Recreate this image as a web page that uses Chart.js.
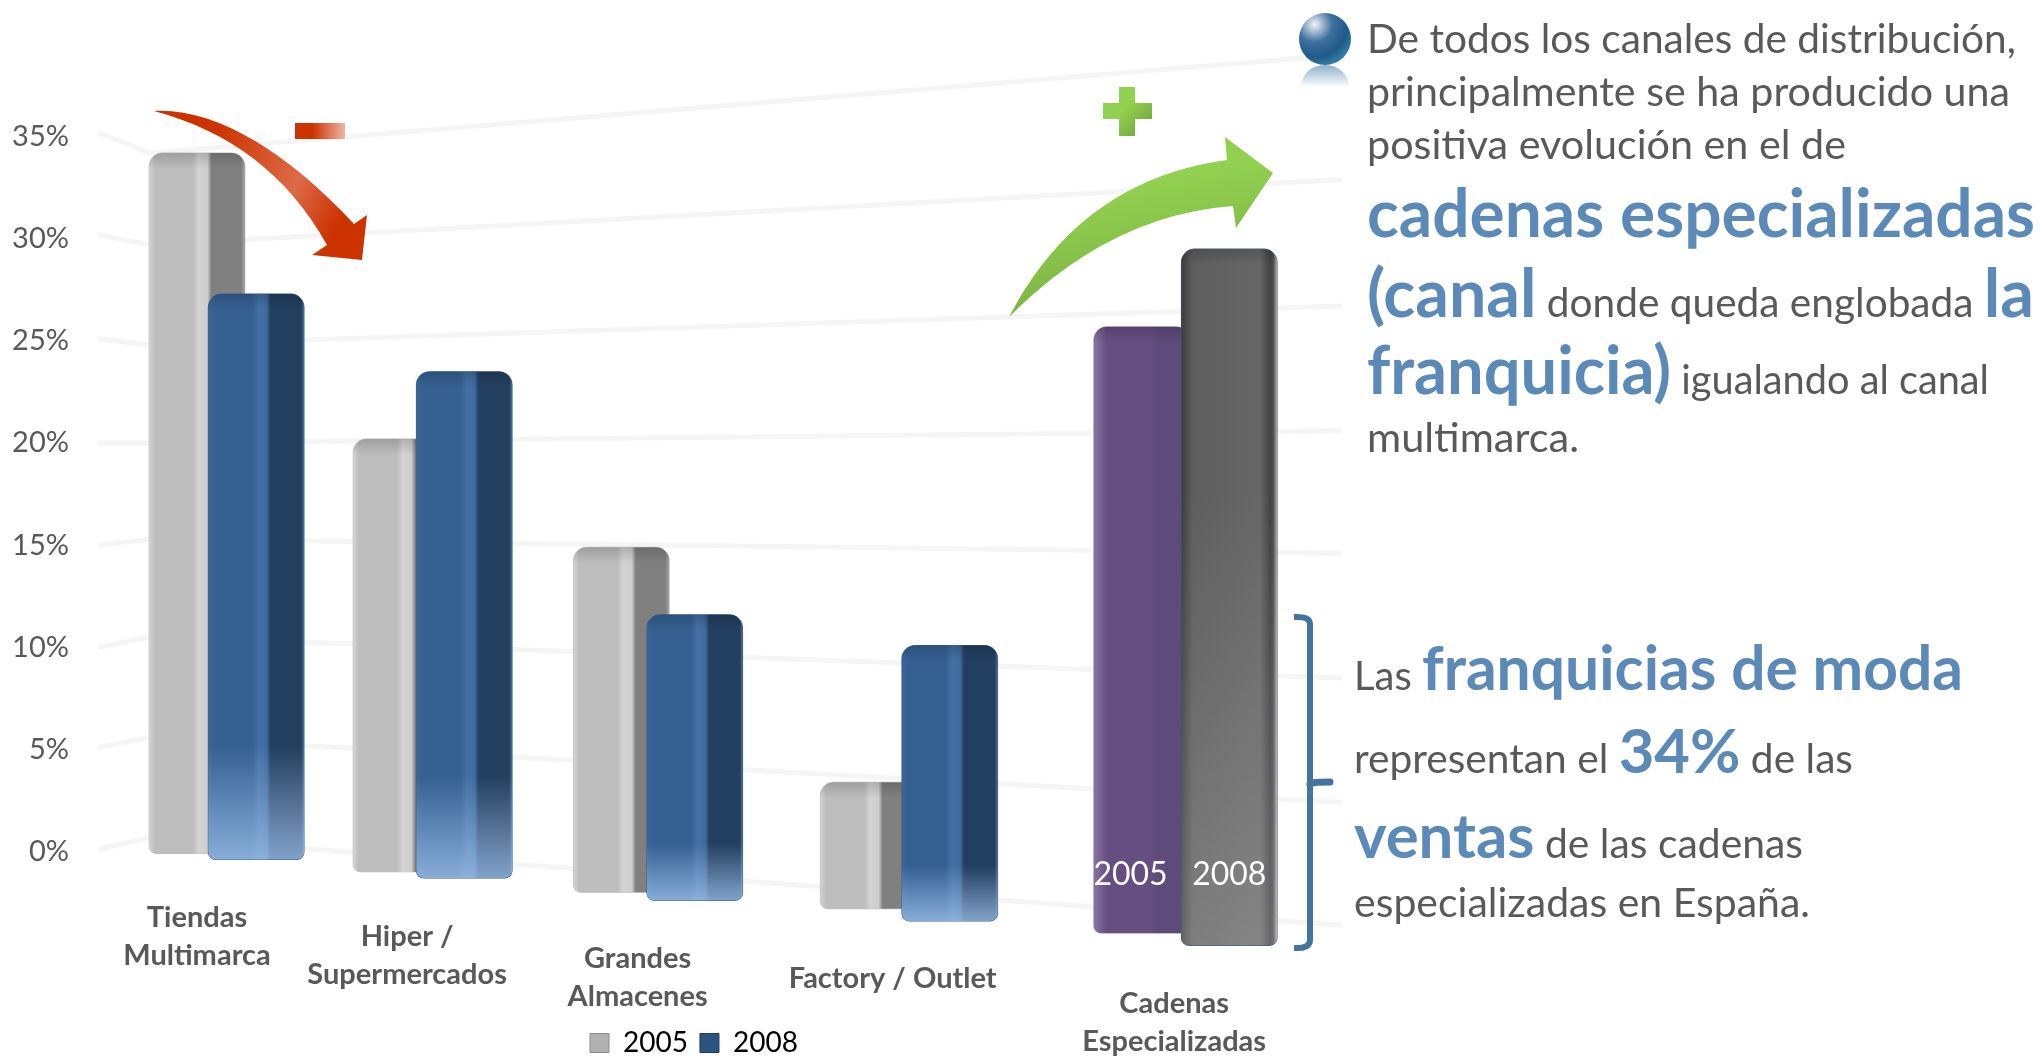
<!DOCTYPE html>
<html>
<head>
  <meta charset="UTF-8">
  <title>Canales de distribución</title>
  <script src="https://cdn.jsdelivr.net/npm/chart.js"></script>
  <style>
    body {
      margin: 0;
      background: #fff;
      font-family: Lato;
      overflow: hidden;
    }

    #wrap {
      position: relative;
      width: 2042px;
      height: 1058px;
    }

    canvas, svg {
      position: absolute;
      left: 0;
      top: 0;
    }

    text {
      font-family: Lato;
      font-size: 41px;
      fill: #595959;
    }

    .big {
      font-size: 67px;
      font-weight: bold;
      fill: #5b8ab8;
    }

    .big2 {
      font-size: 62px;
      font-weight: bold;
      fill: #5b8ab8;
    }
  </style>
</head>
<body>

<div id="wrap">
  <canvas id="chart" width="2042" height="1058"></canvas>

  <svg width="2042" height="1058" viewBox="0 0 2042 1058">
    <defs>
      <linearGradient id="redArrow" x1="0" y1="0" x2="1" y2="0.35">
        <stop offset="0.3" stop-color="#cc3300"/>
        <stop offset="0.75" stop-color="#dd6a48"/>
        <stop offset="1" stop-color="#cc3300"/>
      </linearGradient>
      <linearGradient id="minus" x1="0" y1="0" x2="1" y2="0">
        <stop offset="0.35" stop-color="#cc3300"/>
        <stop offset="1" stop-color="#eeb5a5"/>
      </linearGradient>
      <linearGradient id="greenArrow" x1="0.3" y1="0" x2="0.6" y2="1">
        <stop offset="0.3" stop-color="#92d050"/>
        <stop offset="1" stop-color="#78ad3e"/>
      </linearGradient>
      <linearGradient id="plus" x1="0" y1="0" x2="1" y2="1">
        <stop offset="0.45" stop-color="#92d050"/>
        <stop offset="1" stop-color="#6c9c35"/>
      </linearGradient>
      <radialGradient id="ball" cx="0.3" cy="0.22" r="0.9">
        <stop offset="0" stop-color="#f2f4f7"/>
        <stop offset="0.38" stop-color="#3f6f9d"/>
        <stop offset="0.7" stop-color="#1f5a88"/>
        <stop offset="1" stop-color="#3a8db5"/>
      </radialGradient>
      <linearGradient id="ballShine" x1="0" y1="0" x2="0" y2="1">
        <stop offset="0" stop-color="#8fb0cb"/>
        <stop offset="1" stop-color="#ffffff"/>
      </linearGradient>
    </defs>

    <!-- flecha roja y signo menos -->
    <path fill="url(#redArrow)" d="M154 111 C215 108 285 150 354 224 L367 215 L362 260 L312 255 L327 245 C285 170 225 130 154 111 Z"/>
    <rect x="295" y="123" width="50" height="16" fill="url(#minus)"/>

    <!-- flecha verde y signo mas -->
    <path fill="url(#greenArrow)" d="M1009 317 Q1080 180 1227 160 L1225 137 L1273 173 L1236 228 L1233 206 Q1110 215 1009 317 Z"/>
    <path fill="url(#plus)" d="M1119 87 H1135 V103 H1152 V119 H1135 V136 H1119 V119 H1103 V103 H1119 Z"/>

    <!-- bola -->
    <circle cx="1325" cy="39" r="26" fill="url(#ball)"/>
    <path fill="url(#ballShine)" d="M1300 87 Q1304 66 1325 65 Q1346 66 1350 87 Z"/>

    <!-- llave -->
    <path fill="none" stroke="#44739f" stroke-width="6" d="M1294 617 Q1310 616 1310 624 V940 Q1310 949 1294 948"/>
    <path fill="none" stroke="#44739f" stroke-width="7" stroke-linecap="round" d="M1310 784 Q1311 782 1330 782"/>

    <!-- texto de la derecha -->
    <text x="1367" y="53" textLength="649" lengthAdjust="spacingAndGlyphs">De todos los canales de distribución,</text>
    <text x="1367" y="106" textLength="643" lengthAdjust="spacingAndGlyphs">principalmente se ha producido una</text>
    <text x="1367" y="159" textLength="479" lengthAdjust="spacingAndGlyphs">positiva evolución en el de</text>
    <text x="1367" y="237" textLength="668" lengthAdjust="spacingAndGlyphs"><tspan class="big">cadenas especializadas</tspan></text>
    <text x="1367" y="317" textLength="667" lengthAdjust="spacingAndGlyphs"><tspan class="big">(canal</tspan> donde queda englobada <tspan class="big">la</tspan></text>
    <text x="1367" y="394" textLength="622" lengthAdjust="spacingAndGlyphs"><tspan class="big">franquicia)</tspan> igualando al canal</text>
    <text x="1367" y="452" textLength="212" lengthAdjust="spacingAndGlyphs">multimarca.</text>

    <text x="1354" y="690" textLength="609" lengthAdjust="spacingAndGlyphs">Las <tspan class="big2">franquicias de moda</tspan></text>
    <text x="1354" y="773" textLength="499" lengthAdjust="spacingAndGlyphs">representan el <tspan class="big2">34%</tspan> de las</text>
    <text x="1354" y="858" textLength="449" lengthAdjust="spacingAndGlyphs"><tspan class="big2">ventas</tspan> de las cadenas</text>
    <text x="1354" y="917" textLength="456" lengthAdjust="spacingAndGlyphs">especializadas en España.</text>
  </svg>
</div>

<script>
  const categories = [
    ['Tiendas', 'Multimarca'],
    ['Hiper /', 'Supermercados'],
    ['Grandes', 'Almacenes'],
    ['Factory / Outlet'],
    ['Cadenas', 'Especializadas']
  ];
  const seriesNames = ['2005', '2008'];
  const tickValues = [0, 5, 10, 15, 20, 25, 30, 35];

  // bar heights in %
  const values2005 = [34.3, 21.2, 16.9, 6.2, 29.7];
  const values2008 = [27.7, 24.8, 14.0, 13.5, 34.1];

  // how far each bar foot sits under the 0% mark (perspective), in %
  const drop2005 = [0.1, 1.0, 2.0, 2.8, 4.0];
  const drop2008 = [0.4, 1.3, 2.4, 3.4, 4.6];

  // where the categories fall along the receding x axis, in slots
  const slots2005 = [0, 1, 2.08, 3.29, 4.63];
  const slots2008 = [0.29, 1.31, 2.44, 3.69, 5.06];
  const labelSlots = [0, 1.03, 2.16, 3.41, 4.79];

  // faint wall lines: value at the left end, at the corner, at the right end
  const wallSlots = [-0.485, -0.23, 5.613];
  const wallLeft = [0.1, 5.1, 10.0, 15.0, 20.0, 25.1, 30.2, 35.2];
  const wallCorner = [0.7, 5.6, 10.5, 15.3, 20.0, 24.8, 29.7, 34.2];
  const wallRight = [-3.6, 2.4, 8.5, 14.6, 20.6, 26.7, 32.9, 39.0];

  // gradient stops across each bar, left to right
  const grayStops = [[0, '#d4d4d4'], [0.06, '#bdbdbd'], [0.46, '#bdbdbd'], [0.52, '#d4d4d4'], [0.61, '#cdcdcd'], [0.65, '#808080'], [0.96, '#808080'], [1, '#a8a8a8']];
  const blueStops = [[0, '#3a669a'], [0.06, '#366092'], [0.46, '#366092'], [0.53, '#4472a6'], [0.61, '#40699c'], [0.65, '#233f60'], [0.97, '#233f60'], [1, '#5a7390']];
  const purpleStops = [[0, '#8a74a4'], [0.14, '#664e82'], [0.6, '#664e82'], [0.68, '#5f4a7c'], [1, '#5f4a7c']];
  const darkStops = [[0, '#3c3c3c'], [0.12, '#5e5e5e'], [0.82, '#666666'], [0.93, '#424242'], [0.96, '#505050'], [1, '#b4b4b4']];
  const faces2005 = [grayStops, grayStops, grayStops, grayStops, purpleStops];
  const faces2008 = [blueStops, blueStops, blueStops, blueStops, darkStops];

  // scale calibration
  const zeroY = 851.6;
  const pxPerPct = 20.43;
  const barWidth = 96;

  const barData = (slots, values, drops) => slots.map((s, i) => ({ x: s, y: [-drops[i], values[i] - drops[i]] }));

  const wallDatasets = tickValues.map((t, i) => ({
    type: 'line',
    label: 'wall ' + t,
    order: 3,
    data: wallSlots.map((s, j) => ({ x: s, y: [wallLeft, wallCorner, wallRight][j][i] })),
    borderColor: '#f5f5f5',
    borderWidth: 5,
    pointRadius: 0,
    tension: 0
  }));

  // paint the fake 3D faces on top of each bar the library has drawn
  const faces3d = {
    id: 'faces3d',
    afterDatasetDraw(chart, args) {
      if (args.index > 1) return;
      const ctx = chart.ctx;
      const faces = args.index === 0 ? faces2005 : faces2008;
      args.meta.data.forEach((bar, i) => {
        const { x, y, base, width } = bar.getProps(['x', 'y', 'base', 'width'], true);
        const l = x - width / 2;
        const h = base - y;

        ctx.save();
        ctx.beginPath();
        ctx.roundRect(l, y, width, h, [14, 14, 8, 8]);
        ctx.clip();

        const g = ctx.createLinearGradient(l, 0, l + width, 0);
        faces[i].forEach(([at, colour]) => g.addColorStop(at, colour));
        ctx.fillStyle = g;
        ctx.fillRect(l, y, width, h);

        // top bevel
        const top = ctx.createLinearGradient(0, y, 0, y + 16);
        top.addColorStop(0, 'rgba(0,0,0,0.16)');
        top.addColorStop(1, 'rgba(0,0,0,0)');
        ctx.fillStyle = top;
        ctx.fillRect(l, y, width, 16);

        // blue bars wash out towards the floor, the dark one lightens slowly
        if (args.index === 1 && i < 4) {
          const fadeH = h * 0.2;
          const fade = ctx.createLinearGradient(0, base - fadeH, 0, base);
          fade.addColorStop(0, 'rgba(170,205,245,0)');
          fade.addColorStop(1, 'rgba(170,205,245,0.7)');
          ctx.fillStyle = fade;
          ctx.fillRect(l, base - fadeH, width, fadeH);
        }
        if (args.index === 1 && i === 4) {
          const fade = ctx.createLinearGradient(0, y + h * 0.35, 0, base);
          fade.addColorStop(0, 'rgba(255,255,255,0)');
          fade.addColorStop(1, 'rgba(255,255,255,0.2)');
          ctx.fillStyle = fade;
          ctx.fillRect(l, y, width, h);
        }
        ctx.restore();
      });
    },
    afterDatasetsDraw(chart) {
      const ctx = chart.ctx;
      const xs = chart.scales.x;
      const ys = chart.scales.y;

      // category names step down with the bar feet
      ctx.save();
      ctx.textAlign = 'center';
      ctx.textBaseline = 'middle';
      ctx.fillStyle = '#595959';
      ctx.font = 'bold 29px Lato';
      categories.forEach((lines, i) => {
        const cx = xs.getPixelForValue(labelSlots[i]);
        const footY = ys.getPixelForValue(-drop2008[i]);
        lines.forEach((line, j) => {
          ctx.fillText(line, cx, footY + 58 + j * 38);
        });
      });

      // year names inside the last pair of bars
      ctx.fillStyle = '#ffffff';
      ctx.font = '32px Lato';
      const last = categories.length - 1;
      const yearY = ys.getPixelForValue(-1.15);
      ctx.fillText(seriesNames[0], chart.getDatasetMeta(0).data[last].x - 11, yearY);
      ctx.fillText(seriesNames[1], chart.getDatasetMeta(1).data[last].x, yearY);
      ctx.restore();
    },
    afterLayout(chart) {
      // pin the y scale to the reference pixels, whatever the legend took
      const s = chart.scales.y;
      s.min = (zeroY - s.bottom) / pxPerPct;
      s.max = (zeroY - s.top) / pxPerPct;
      s.configure();
      // and put the legend under the chart, off centre like the reference
      const lg = chart.legend;
      const w = lg.width;
      lg.left = 578;
      lg.right = 578 + w;
      lg.top = 1058 - lg.height + 9;
    }
  };

  new Chart(document.getElementById('chart'), {
    type: 'bar',
    plugins: [faces3d],
    data: {
      datasets: [
        {
          label: seriesNames[0],
          order: 2,
          data: barData(slots2005, values2005, drop2005),
          backgroundColor: '#bdbdbd',
          barThickness: barWidth,
          grouped: false,
          borderSkipped: false,
          borderRadius: { topLeft: 14, topRight: 14, bottomLeft: 8, bottomRight: 8 }
        },
        {
          label: seriesNames[1],
          order: 1,
          data: barData(slots2008, values2008, drop2008),
          backgroundColor: '#366092',
          barThickness: barWidth,
          grouped: false,
          borderSkipped: false,
          borderRadius: { topLeft: 14, topRight: 14, bottomLeft: 8, bottomRight: 8 }
        },
        ...wallDatasets
      ]
    },
    options: {
      responsive: false,
      devicePixelRatio: 1,
      animation: false,
      layout: { padding: 0 },
      scales: {
        x: {
          type: 'linear',
          display: false,
          offset: false,
          min: -0.5735,
          max: 9.044
        },
        y: {
          min: -10,
          max: 41,
          afterFit: s => { s.width = 80; },
          afterBuildTicks: s => { s.ticks = tickValues.map(v => ({ value: v })); },
          grid: { display: false, drawTicks: false },
          border: { display: false },
          ticks: {
            autoSkip: false,
            padding: 11,
            color: '#595959',
            font: { family: 'Lato', size: 29 },
            callback: v => v + '%'
          }
        }
      },
      plugins: {
        tooltip: { enabled: false },
        title: { display: false },
        legend: {
          position: 'bottom',
          align: 'start',
          labels: {
            boxWidth: 19,
            boxHeight: 19,
            padding: 12,
            color: '#404040',
            font: { family: 'Lato', size: 28 },
            generateLabels: () => [
              { text: seriesNames[0], fillStyle: '#b0b0b0', strokeStyle: '#8a8a8a', lineWidth: 1, datasetIndex: 0 },
              { text: seriesNames[1], fillStyle: '#2c5280', strokeStyle: '#1d3a5c', lineWidth: 1, datasetIndex: 1 }
            ]
          }
        }
      }
    }
  });
</script>

</body>
</html>
